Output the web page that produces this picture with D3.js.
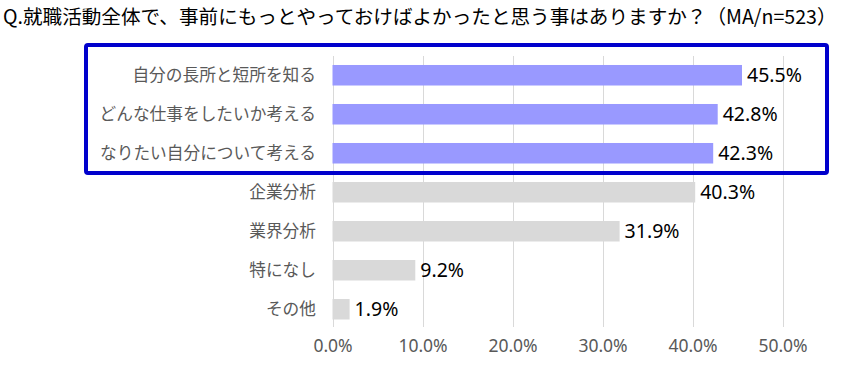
<!DOCTYPE html>
<html>
<head>
<meta charset="utf-8">
<script src="https://cdn.jsdelivr.net/npm/d3@7"></script>
<style>
  body { margin: 0; background: #fff; }
  svg text { font-family: "Noto Sans CJK JP", "Noto Sans", sans-serif; }
</style>
</head>
<body>
<script>
// data
var categories = ["自分の長所と短所を知る", "どんな仕事をしたいか考える", "なりたい自分について考える",
                  "企業分析", "業界分析", "特になし", "その他"];
var values = [45.5, 42.8, 42.3, 40.3, 31.9, 9.2, 1.9];
var highlighted = [true, true, true, false, false, false, false];
var tickValues = [0, 10, 20, 30, 40, 50];
var title = "Q.就職活動全体で、事前にもっとやっておけばよかったと思う事はありますか？（MA/n=523）";

var width = 850, height = 368;
var svg = d3.select("body").append("svg")
  .attr("width", width).attr("height", height);

var x = d3.scaleLinear().domain([0, 50]).range([332.5, 782.5]);
var y = d3.scaleBand().domain(categories).range([55.75, 328.75]).paddingInner(0.474).paddingOuter(0.237);

// title
svg.append("text")
  .attr("x", 3).attr("y", 24)
  .style("font-size", "19.6px")
  .attr("fill", "#000")
  .text(title);

// grid
svg.append("g").selectAll("line")
  .data(tickValues).enter().append("line")
  .attr("x1", function(d) { return Math.round(x(d)) + 0.5; })
  .attr("x2", function(d) { return Math.round(x(d)) + 0.5; })
  .attr("y1", 56).attr("y2", 327)
  .attr("stroke", "#d9d9d9").attr("stroke-width", 1);

// x axis
var xAxis = d3.axisBottom(x).tickValues(tickValues).tickSize(0).tickPadding(0)
  .tickFormat(function(d) { return d.toFixed(1) + "%"; });
var gx = svg.append("g").attr("transform", "translate(0,340)").call(xAxis);
gx.select(".domain").remove();
gx.selectAll("text")
  .attr("fill", "#595959")
  .style("font-size", "17.5px")
  .style("font-family", "'Noto Sans', sans-serif");

// y labels
svg.append("g").selectAll("text")
  .data(categories).enter().append("text")
  .attr("x", 316)
  .attr("y", function(d) { return y(d) + y.bandwidth() / 2; })
  .attr("dy", "0.36em")
  .attr("text-anchor", "end")
  .attr("fill", "#595959")
  .style("font-size", "16.7px")
  .text(function(d) { return d; });

// bars
svg.append("g").selectAll("rect")
  .data(values).enter().append("rect")
  .attr("x", x(0))
  .attr("y", function(d, i) { return y(categories[i]); })
  .attr("width", function(d) { return x(d) - x(0); })
  .attr("height", y.bandwidth())
  .attr("fill", function(d, i) { return highlighted[i] ? "#9999ff" : "#d9d9d9"; });

// value labels
svg.append("g").selectAll("text")
  .data(values).enter().append("text")
  .attr("x", function(d) { return x(d) + 5; })
  .attr("y", function(d, i) { return y(categories[i]) + y.bandwidth() / 2; })
  .attr("dy", "0.36em")
  .attr("fill", "#000")
  .style("font-size", "19.5px")
  .style("font-family", "'Noto Sans', sans-serif")
  .text(function(d) { return d.toFixed(1) + "%"; });

// highlight box
svg.append("rect")
  .attr("x", 86).attr("y", 45)
  .attr("width", 741).attr("height", 128)
  .attr("rx", 2)
  .attr("fill", "none")
  .attr("stroke", "#0000cc")
  .attr("stroke-width", 4);
</script>
</body>
</html>
